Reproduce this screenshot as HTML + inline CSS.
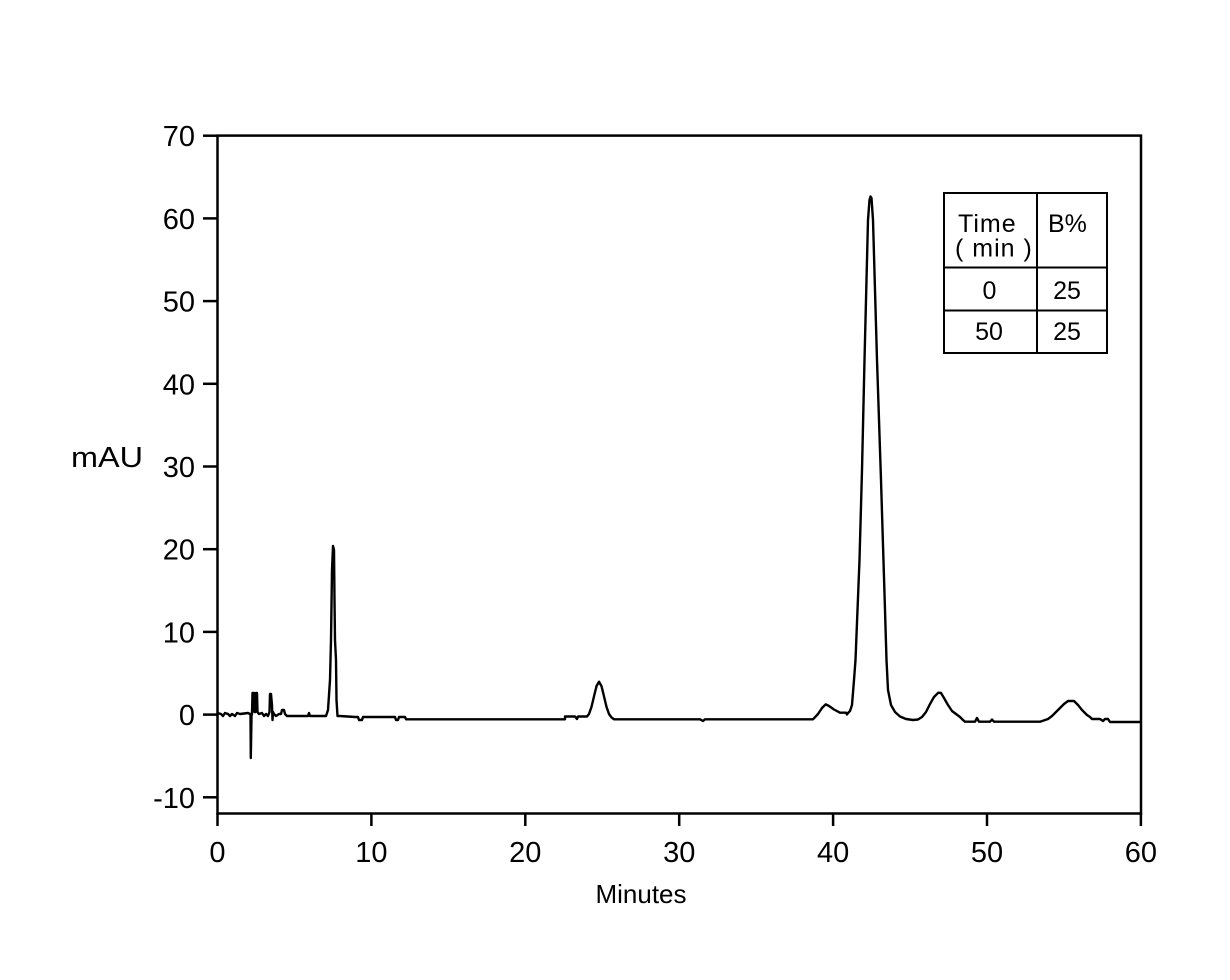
<!DOCTYPE html>
<html>
<head>
<meta charset="utf-8">
<style>
html,body{margin:0;padding:0;background:#fff;}
svg{display:block;}
text{font-family:"Liberation Sans",Arial,sans-serif;fill:#000;}
</style>
</head>
<body>
<svg width="1230" height="980" viewBox="0 0 1230 980" xmlns="http://www.w3.org/2000/svg">
<rect x="0" y="0" width="1230" height="980" fill="#fff"/>

<!-- trace -->
<polyline fill="none" stroke="#000" stroke-width="2.4" stroke-linejoin="round" points="
217.5,713 221,714 223,716 225,713 228,714 230,716 232,714 235,716 237,713 240,714 248,713 250,714
250.5,714 250.8,758 251.5,716 252,714 252.5,693 254,693 254.5,712 255.5,712 256,693 257,693 257.5,712
259,714 262,713 264,716 266,714 268,716 269.5,712 270,694 271,694 272,705 272.5,720 273,712 274,714
276,716 279,714 281,714 282,710 284,710 285,714 287,716 300,716 308,716 309,713 310,716 326,716
328,710 330,680 331,640 332,570 333,546 334,550 334.5,600 335,640 336,660 336.5,700 337.5,716 340,716
355,717 358,717 359,720 362,720 363,717 395,717 396,720 398,720 399,717 405,717 406,719.3 565,719.3
565,716.5 575,716.5 577,719 578,716.5 587,716.5 589,714 591.5,706.9 594,696.4 596.5,686.1 599,681.7
601.5,686.1 604,696.4 606.5,706.9 609,714 611.5,717.4 614,719.3 660,719.3 700,719.3 703,721 705,719.3
813,719.3 818,714 822,708 825.7,704.3 829,706 834,709.5 840,712.7 846,712.7 847,714.5 848,713
850,711 852,705 854,680 855.5,660 857.5,610 859.5,560 862,470 864.5,360 866.5,280 868,220 869.5,200
870.5,196.5 871.5,198 873,220 875,290 877,360 879,420 881,480 883,545 885,610 886.5,660 888,690
891,705 895,712 900,716.5 906,719 913,720 918,719.5 922,717 926,712 930,704 934,697 938.3,692.7
941,693 944,698 948,705 952,711 956,714 960,717 963,720 965,721.7 975,721.7 977,718 979,721.7
990,721.7 992,719.5 994,721.7 1040,721.7 1048,719 1052,716 1058,710 1064,704 1068,701 1074,701
1078,705 1082,710 1087,715 1090,717 1092,719 1100,719 1103,721 1105,719 1108,719 1110,722 1141,722"/>

<!-- frame -->
<rect x="217.5" y="135.6" width="923.5" height="677.9" fill="none" stroke="#000" stroke-width="2.5"/>

<!-- y ticks -->
<g stroke="#000" stroke-width="2.5">
<line x1="203" y1="135.7" x2="217.5" y2="135.7"/>
<line x1="203" y1="218.4" x2="217.5" y2="218.4"/>
<line x1="203" y1="301.1" x2="217.5" y2="301.1"/>
<line x1="203" y1="383.8" x2="217.5" y2="383.8"/>
<line x1="203" y1="466.5" x2="217.5" y2="466.5"/>
<line x1="203" y1="549.2" x2="217.5" y2="549.2"/>
<line x1="203" y1="631.9" x2="217.5" y2="631.9"/>
<line x1="203" y1="714.6" x2="217.5" y2="714.6"/>
<line x1="203" y1="797.3" x2="217.5" y2="797.3"/>
</g>
<g font-size="29" text-anchor="end">
<text x="195" y="146.2">70</text>
<text x="195" y="228.9">60</text>
<text x="195" y="311.6">50</text>
<text x="195" y="394.3">40</text>
<text x="195" y="477">30</text>
<text x="195" y="559.7">20</text>
<text x="195" y="642.4">10</text>
<text x="195" y="725.1">0</text>
<text x="195" y="807.8">-10</text>
</g>

<!-- x ticks -->
<g stroke="#000" stroke-width="2.5">
<line x1="217.5" y1="813" x2="217.5" y2="826"/>
<line x1="371.4" y1="813" x2="371.4" y2="826"/>
<line x1="525.3" y1="813" x2="525.3" y2="826"/>
<line x1="679.2" y1="813" x2="679.2" y2="826"/>
<line x1="833.1" y1="813" x2="833.1" y2="826"/>
<line x1="987" y1="813" x2="987" y2="826"/>
<line x1="1140.9" y1="813" x2="1140.9" y2="826"/>
</g>
<g font-size="29" text-anchor="middle">
<text x="217.5" y="862">0</text>
<text x="371.4" y="862">10</text>
<text x="525.3" y="862">20</text>
<text x="679.2" y="862">30</text>
<text x="833.1" y="862">40</text>
<text x="987" y="862">50</text>
<text x="1140.9" y="862">60</text>
</g>

<!-- axis titles -->
<text x="71" y="467" font-size="29" textLength="72" lengthAdjust="spacingAndGlyphs">mAU</text>
<text x="641" y="903" font-size="26" text-anchor="middle">Minutes</text>

<!-- table -->
<g stroke="#000" stroke-width="2" fill="none">
<rect x="944" y="193" width="163" height="160"/>
<line x1="1037" y1="193" x2="1037" y2="353"/>
<line x1="944" y1="267.5" x2="1107" y2="267.5"/>
<line x1="944" y1="310.5" x2="1107" y2="310.5"/>
</g>
<g font-size="25">
<text x="958" y="232" letter-spacing="1">Time</text>
<text x="955" y="256.5" letter-spacing="1">( min )</text>
<text x="1048" y="232">B%</text>
<text x="989.5" y="299" text-anchor="middle">0</text>
<text x="1067" y="299" text-anchor="middle">25</text>
<text x="989" y="340" text-anchor="middle">50</text>
<text x="1067" y="340" text-anchor="middle">25</text>
</g>
</svg>
</body>
</html>
